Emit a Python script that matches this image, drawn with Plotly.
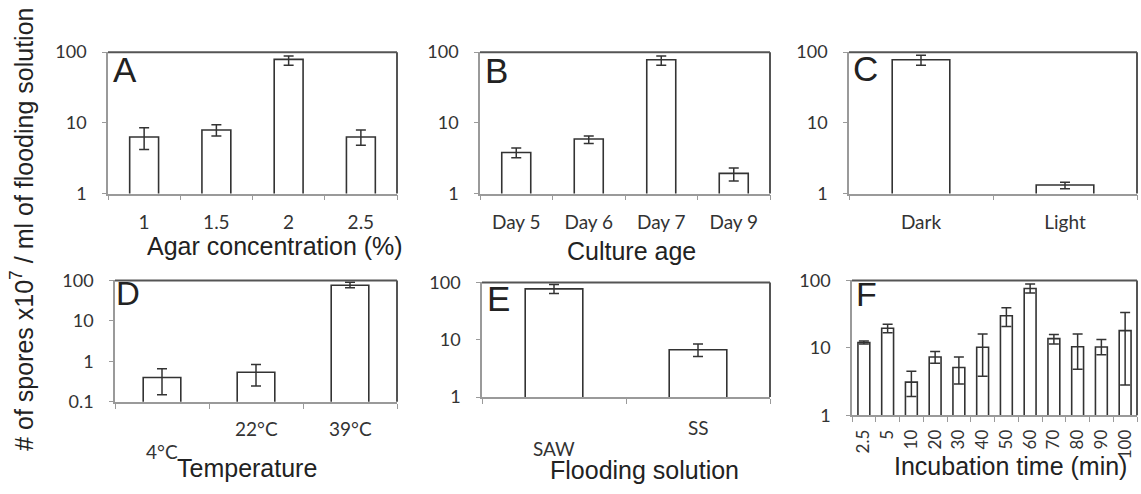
import plotly.graph_objects as go

# ---- data: mean spore yield with lower/upper error bounds (x10^7 spores / ml) ----
agar_cats = ["1", "1.5", "2", "2.5"]
agar_mean = [6.3, 7.9, 79, 6.3]
agar_lo = [4.2, 6.5, 65, 4.8]
agar_hi = [8.5, 9.4, 88, 7.9]

age_cats = ["Day 5", "Day 6", "Day 7", "Day 9"]
age_mean = [3.8, 5.9, 78, 1.93]
age_lo = [3.2, 5.1, 65, 1.5]
age_hi = [4.4, 6.5, 88, 2.3]

light_cats = ["Dark", "Light"]
light_mean = [78, 1.32]
light_lo = [65, 1.17]
light_hi = [90, 1.44]

temp_cats = ["4°C", "22°C", "39°C"]
temp_mean = [0.40, 0.54, 76]
temp_lo = [0.15, 0.245, 66]
temp_hi = [0.66, 0.84, 91]

sol_cats = ["SAW", "SS"]
sol_mean = [77, 6.7]
sol_lo = [64, 5.1]
sol_hi = [92, 8.4]

time_cats = ["2.5", "5", "10", "20", "30", "40", "50", "60", "70", "80", "90", "100"]
time_mean = [12, 19.5, 3.1, 7.3, 5.1, 10.2, 30, 76, 13.7, 10.4, 10.3, 18]
time_lo = [11.4, 16.7, 1.9, 5.9, 2.9, 3.8, 20.8, 65, 11.4, 4.8, 7.9, 2.8]
time_hi = [12.6, 22.4, 4.5, 8.8, 7.3, 16.1, 39.5, 89, 15.8, 16.1, 13.3, 33.6]

W, H = 1141, 494
DARK = "#333333"
AXIS = "#9a9a9a"
TICK_FONT = "Lato, Open Sans, sans-serif"
TITLE_FONT = "Liberation Sans, Arial, sans-serif"


def px_x(a, b):
    return [a / W, b / W]


def px_y(top, bottom):
    return [1 - bottom / H, 1 - top / H]


# panel: key, cats, mean, lo, hi, x-domain px, y-domain px, y-range (log),
#        letter, letter size, letter x offset px, letter centre (fraction of panel height), bargap
panels = [
    ("", agar_cats, agar_mean, agar_lo, agar_hi, (108, 397), (42, 190), [0, 2], "A", 35, 3, 0.878, 0.6),
    ("2", age_cats, age_mean, age_lo, age_hi, (480, 770), (42, 190), [0, 2], "B", 35, 3, 0.872, 0.6),
    ("3", light_cats, light_mean, light_lo, light_hi, (849, 1137), (42, 190), [0, 2], "C", 35, 2, 0.885, 0.6),
    ("4", temp_cats, temp_mean, temp_lo, temp_hi, (115, 397), (281, 408), [-1, 2], "D", 33, -1, 0.89, 0.6),
    ("5", sol_cats, sol_mean, sol_lo, sol_hi, (482, 770), (283, 403), [0, 2], "E", 35, 3, 0.858, 0.6),
    ("6", time_cats, time_mean, time_lo, time_hi, (852, 1137), (281, 422), [0, 2], "F", 34, 2, 0.90, 0.5),
]

# vertical offsets (px below the x axis) of hand-placed category labels
label_shift = {
    "4": [-50, -27, -27],
    "5": [-51, -30],
}

fig = go.Figure()
layout = dict(
    width=W, height=H, margin=dict(l=0, r=0, t=0, b=0),
    paper_bgcolor="white", plot_bgcolor="white", showlegend=False,
    font=dict(family=TITLE_FONT, color="#222"),
)
annotations = []
shapes = []

for key, cats, mean, lo, hi, xd, yd, yr, letter, lsize, lx, ly, gap in panels:
    xa, ya = "x" + key, "y" + key
    fig.add_trace(go.Bar(
        x=cats, y=mean, xaxis=xa, yaxis=ya,
        width=1 - gap,
        marker=dict(color="white", line=dict(color=DARK, width=1.6)),
        error_y=dict(type="data", symmetric=False,
                     array=[h - m for h, m in zip(hi, mean)],
                     arrayminus=[m - l for m, l in zip(mean, lo)],
                     color=DARK, thickness=1.5, width=5),
    ))
    rotated = key == "6"
    own_labels = key in label_shift
    layout["xaxis" + key] = dict(
        domain=px_x(*xd), anchor=ya, type="category",
        showline=True, linecolor=AXIS, linewidth=1.5,
        ticks="outside", tickson="boundaries", ticklen=5, tickcolor=AXIS,
        showgrid=False, showticklabels=not own_labels,
        tickangle=-90 if rotated else 0,
        tickfont=dict(family=TICK_FONT, size=17 if rotated else 19, color="#333"),
        ticklabelstandoff=6 if rotated else 11,
    )
    tv = [0.1, 1, 10, 100] if yr[0] < 0 else [1, 10, 100]
    layout["yaxis" + key] = dict(
        domain=px_y(*yd), anchor=xa, type="log", range=yr,
        tickvals=tv, ticktext=[f"{v:g}" for v in tv],
        showline=True, linecolor=AXIS, linewidth=1.5,
        ticks="outside", ticklen=4, tickcolor=AXIS, showgrid=False,
        tickfont=dict(family=TICK_FONT, size=18, color="#333"),
        ticklabelstandoff=12,
    )
    # darker frame on the top and right edges
    xdom = ("x" + key + " domain") if key else "x domain"
    ydom = ("y" + key + " domain") if key else "y domain"
    shapes.append(dict(type="line", xref=xdom, yref=ydom, x0=0, x1=1, y0=1, y1=1,
                       line=dict(color="#555", width=2)))
    shapes.append(dict(type="line", xref=xdom, yref=ydom, x0=1, x1=1, y0=0, y1=1,
                       line=dict(color="#555", width=2)))
    annotations.append(dict(text=letter, xref=xdom, yref=ydom, x=0.0, y=ly,
                            xanchor="left", yanchor="middle", xshift=lx, showarrow=False,
                            font=dict(family=TITLE_FONT, size=lsize, color="#222")))
    if own_labels:
        for c, shift in zip(cats, label_shift[key]):
            annotations.append(dict(text=c, xref=xa, yref=ydom, x=c, y=0,
                                    yanchor="middle", showarrow=False, yshift=shift,
                                    font=dict(family=TICK_FONT, size=19, color="#333")))

# axis titles (centre x, centre y in px)
titles = [
    ("Agar concentration (%)", 275, 245),
    ("Culture age", 631, 250),
    ("Temperature", 247, 477),
    ("Flooding solution", 644, 479),
    ("Incubation time (min)", 1010, 475),
]
for t, cx, cy in titles:
    annotations.append(dict(text=t, xref="paper", yref="paper", x=cx / W, y=1 - cy / H,
                            xanchor="center", yanchor="middle", showarrow=False,
                            font=dict(family=TITLE_FONT, size=25, color="#222")))

annotations.append(dict(text="# of spores x10<sup>7</sup> / ml of flooding solution",
                        xref="paper", yref="paper", x=22 / W, y=1 - 228 / H,
                        xanchor="center", yanchor="middle", textangle=-90, showarrow=False,
                        font=dict(family=TITLE_FONT, size=25, color="#222")))

layout["annotations"] = annotations
layout["shapes"] = shapes
fig.update_layout(**layout)
fig.write_html("out.html")
